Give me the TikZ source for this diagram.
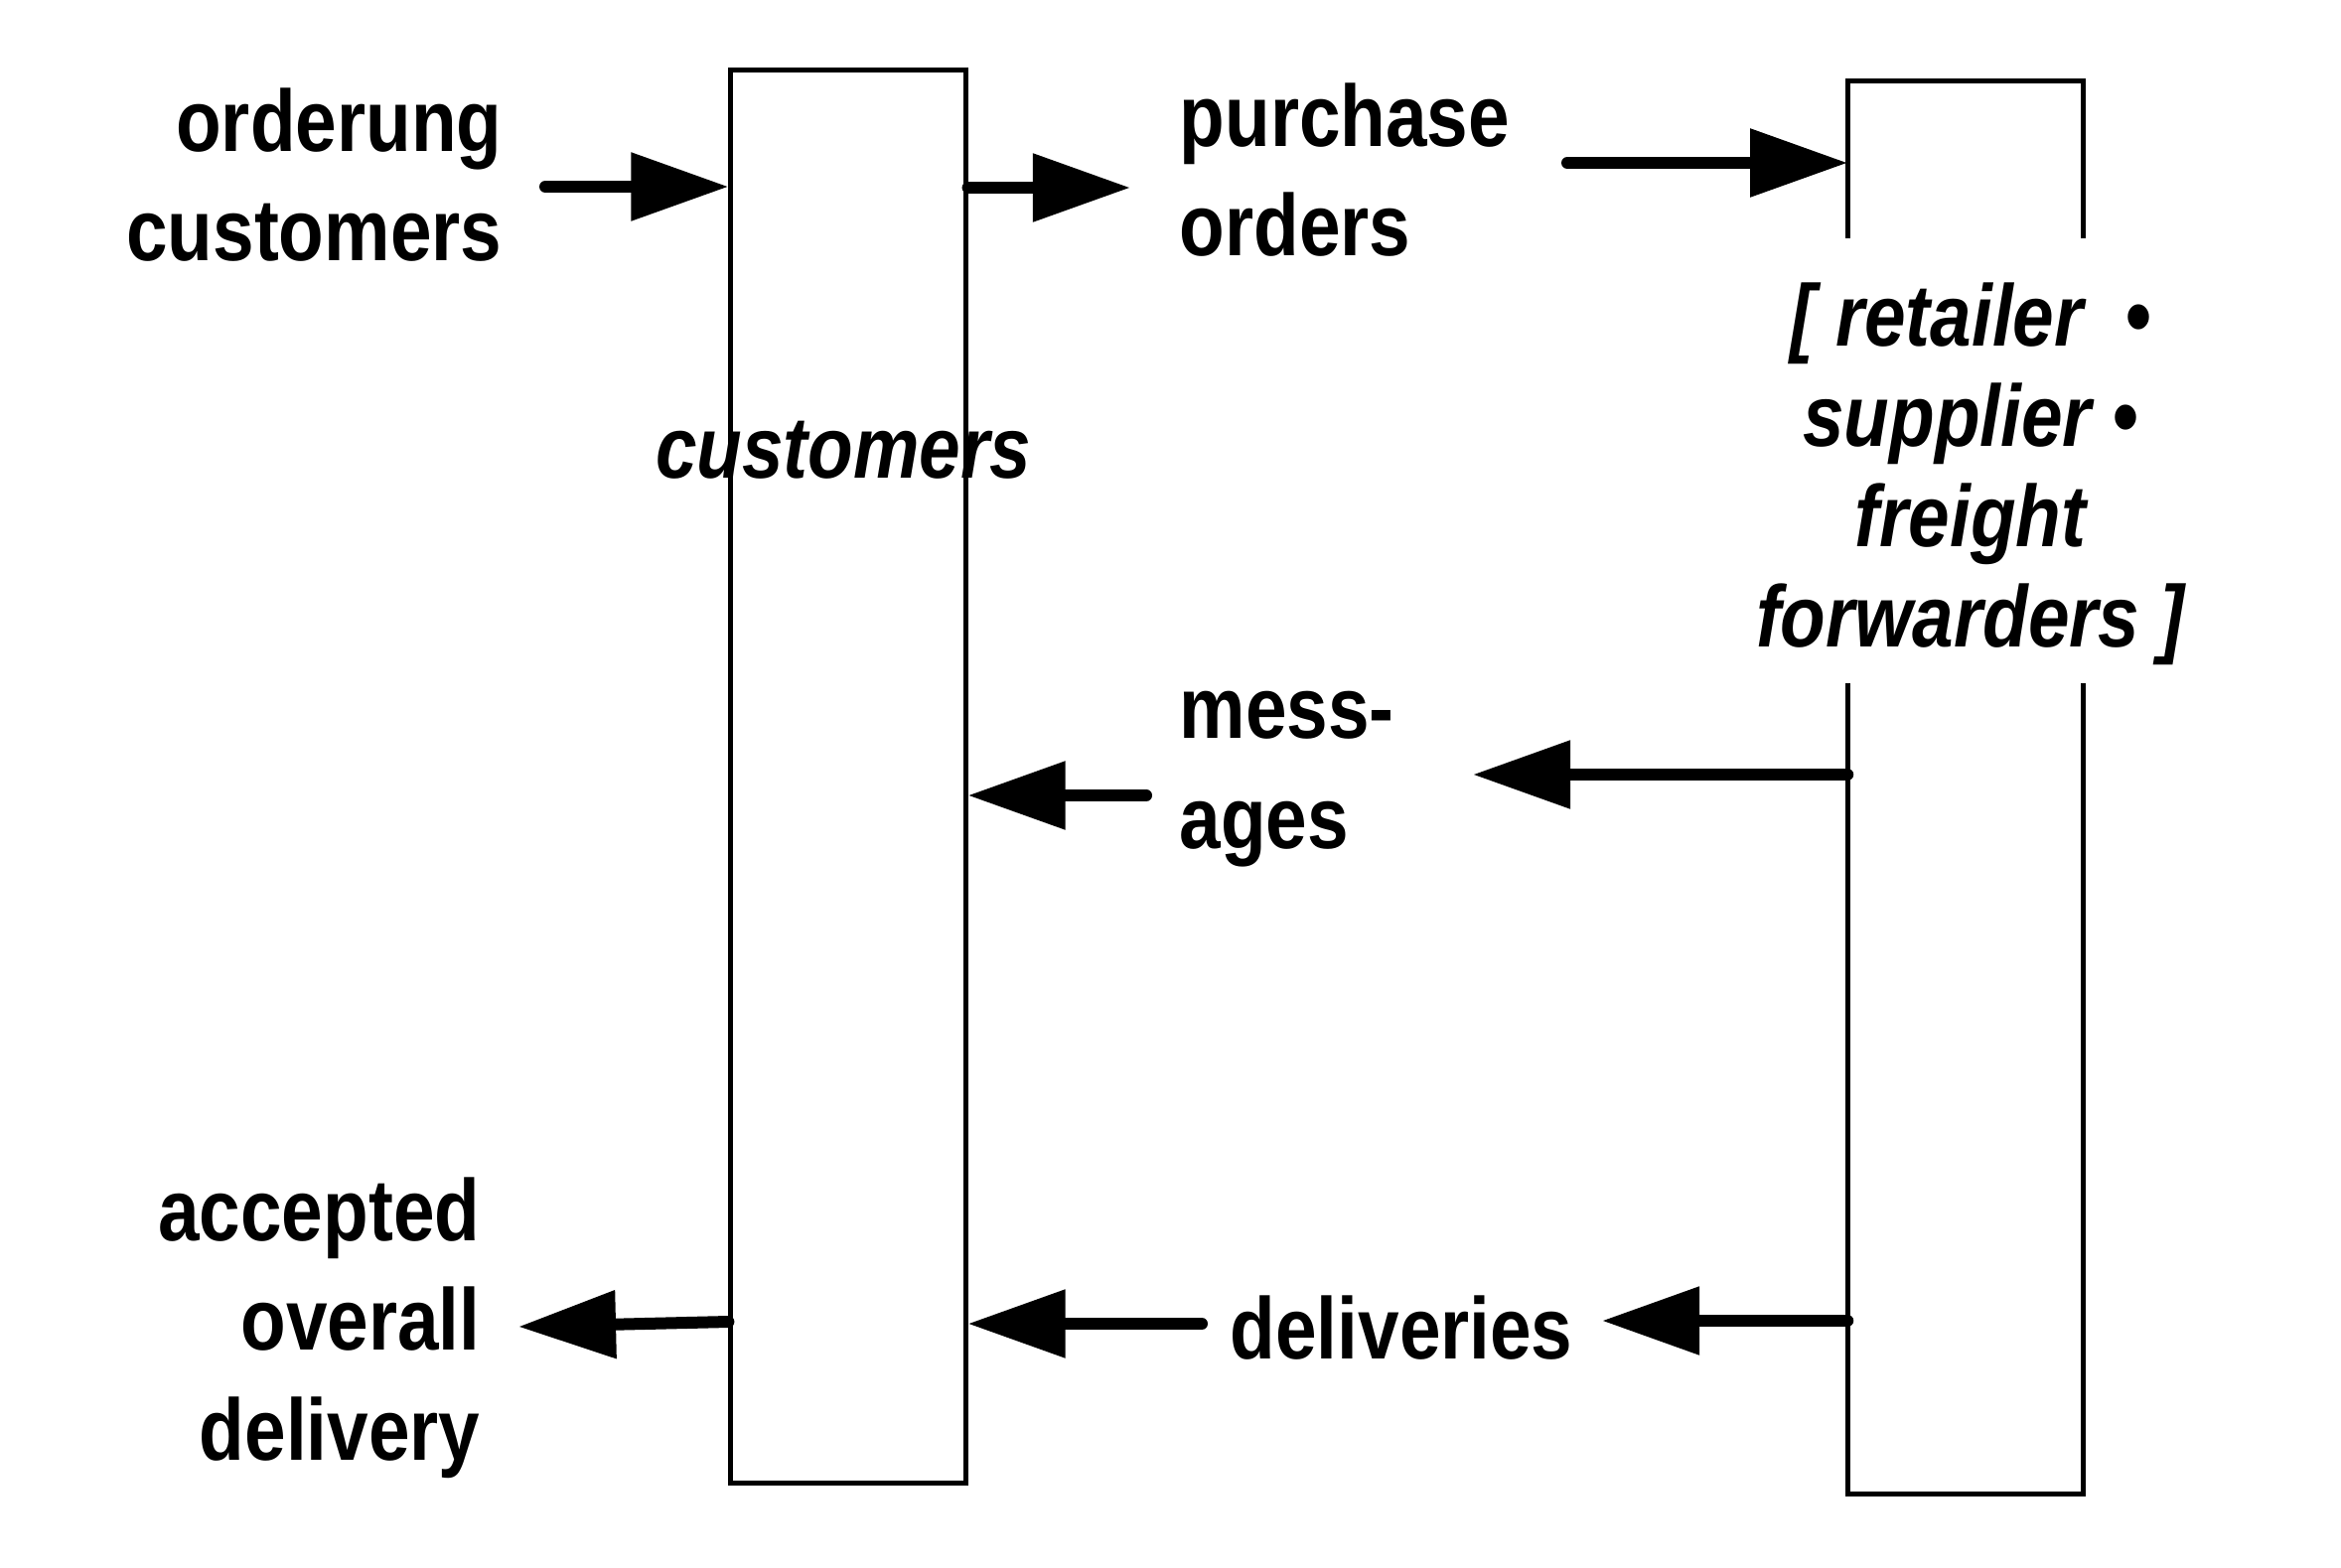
\documentclass[tikz,border=0pt]{standalone}
\usepackage{fontspec}
\setmainfont{Liberation Sans}[FakeStretch=0.85]
\usetikzlibrary{arrows.meta}
\begin{document}
\begin{tikzpicture}[x=0.01cm,y=-0.01cm,
  boxline/.style={line width=0.05cm},
  arr/.style={line width=0.12cm, line cap=round, -{Triangle[length=0.98cm,width=0.66cm]}},
  lbl/.style={inner sep=0pt, font=\fontsize{25}{31.3}\selectfont\bfseries},
  ilbl/.style={inner sep=0pt, font=\fontsize{25}{28.7}\selectfont\bfseries\itshape}]
\useasboundingbox (0,0) rectangle (2357,1579);
% boxes
\node[draw, boxline, minimum width=2.36cm, minimum height=14.22cm, inner sep=0pt] (cust) at (854,782) {};
\node[minimum width=2.36cm, minimum height=14.20cm, inner sep=0pt] (part) at (1979,793) {};
\draw[boxline] (part.west |- 0,240) -- (part.north west) -- (part.north east) -- (part.east |- 0,240);
\draw[boxline] (part.west |- 0,688) -- (part.south west) -- (part.south east) -- (part.east |- 0,688);
% texts
\node[ilbl, anchor=base] (custtxt) at (849,481) {customers};
\node[ilbl, anchor=base, align=center] (parttxt) at (1984,651) {[ retailer\ \ •\\ supplier •\\ freight\\forwarders ]};
\node[lbl, anchor=base east, align=right] (ordc) at (506,263) {orderung\\customers};
\node[lbl, anchor=base west, align=left] (po) at (1187,258) {purchase\\orders};
\node[lbl, anchor=base west, align=left] (msg) at (1187,854) {mess-\\ages};
\node[lbl, anchor=base west] (del) at (1238,1368) {deliveries};
\node[lbl, anchor=base east, align=right] (acc) at (484,1470) {accepted\\overall\\delivery};
% free ends
\coordinate (c1) at (549,188);
\coordinate (c2) at (1138,189);
\coordinate (c3) at (1578,164);
\coordinate (c4) at (1483,780);
\coordinate (c5) at (1154,801);
\coordinate (c6) at (1613,1330);
\coordinate (c7) at (1210,1333);
\coordinate (c8) at (522,1336);
% arrows
\draw[arr] (c1) -- (c1 -| cust.west);
\draw[arr] (c2 -| cust.east) -- (c2);
\draw[arr] (c3) -- (c3 -| part.west);
\draw[arr] (c4 -| part.west) -- (c4);
\draw[arr] (c5) -- (c5 -| cust.east);
\draw[arr] (c6 -| part.west) -- (c6);
\draw[arr] (c7) -- (c7 -| cust.east);
\draw[arr] (cust.west |- 0,1331) -- (c8);
\end{tikzpicture}
\end{document}
